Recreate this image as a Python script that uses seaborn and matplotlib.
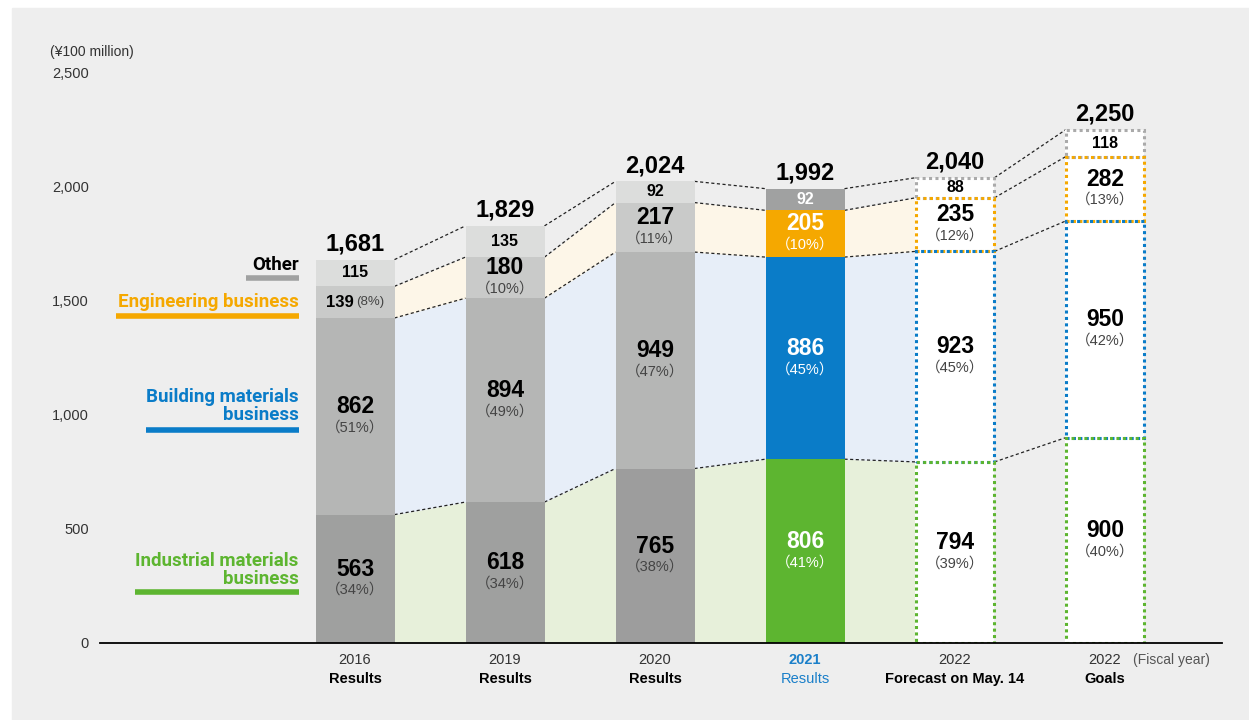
import matplotlib
matplotlib.use("Agg")
import matplotlib.pyplot as plt
from matplotlib.patches import Rectangle
import seaborn as sns

# data (¥100 million)
categories = ["2016", "2019", "2020", "2021", "2022F", "2022G"]
industrial = [563, 618, 765, 806, 794, 900]
building = [862, 894, 949, 886, 923, 950]
engineering = [139, 180, 217, 205, 235, 282]
other = [115, 135, 92, 92, 88, 118]
totals = [1681, 1829, 2024, 1992, 2040, 2250]
ind_pct = [34, 34, 38, 41, 39, 40]
bld_pct = [51, 49, 47, 45, 45, 42]
eng_pct = [8, 10, 11, 10, 12, 13]
year_labels = ["2016", "2019", "2020", "2021", "2022", "2022"]
sub_labels = ["Results", "Results", "Results", "Results", "Forecast on May. 14", "Goals"]

GRAY_BG = "#eeeeee"
C_IND, C_BLD, C_ENG, C_OTH = "#5db530", "#0a7cc8", "#f5a800", "#a0a1a1"
BAND_IND, BAND_BLD, BAND_ENG = "#e7f0da", "#e7eef8", "#fdf6e8"
FONT = ["Liberation Sans", "Noto Sans CJK JP", "DejaVu Sans"]

sns.set_theme(style="white")
plt.rcParams["font.family"] = FONT
plt.rcParams["text.color"] = "black"

fig = plt.figure(figsize=(12.49, 7.2), dpi=100)
fig.patch.set_facecolor("white")
fig.add_artist(Rectangle((12 / 1249, 0), 1, 712 / 720, transform=fig.transFigure,
                         color=GRAY_BG, zorder=-1))
ax = fig.add_axes([100 / 1249, 77 / 720, 1122 / 1249, 593 / 720])
ax.set_facecolor("none")

n = len(categories)
pos = list(range(n))
w = 79 / 150
cum1 = industrial
cum2 = [a + b for a, b in zip(cum1, building)]
cum3 = [a + b for a, b in zip(cum2, engineering)]
cum4 = totals
layers = [(cum4, ["#dcdddc", "#dcdddc", "#dcdddc", C_OTH, "white", "white"]),
          (cum3, ["#c9cac9", "#c9cac9", "#c9cac9", C_ENG, "white", "white"]),
          (cum2, ["#b5b6b5", "#b5b6b5", "#b5b6b5", C_BLD, "white", "white"]),
          (cum1, ["#9fa09f", "#9fa09f", "#9d9d9d", C_IND, "white", "white"])]

# stacked bars by overlapping cumulative heights
for vals, cols in layers:
    sns.barplot(x=categories, y=vals, hue=categories, palette=cols, legend=False,
                width=w, saturation=1, errorbar=None, linewidth=0, zorder=3, ax=ax)

# dotted outlines for 2022 forecast / goals
dot = (0, (1, 1.1))
bounds = [([0] * n, cum1, C_IND), (cum1, cum2, C_BLD), (cum2, cum3, C_ENG), (cum3, cum4, "#aaaaaa")]
for k, (lo, hi, c) in enumerate(reversed(bounds)):
    for i in (4, 5):
        ax.bar(pos[i], hi[i] - lo[i], bottom=lo[i], width=w - 0.012, fill=False,
               edgecolor=c, linewidth=2.2, linestyle=dot, zorder=4 + k)

# bands and dashed connectors between bars
band_cols = [BAND_IND, BAND_BLD, BAND_ENG, None]
for i in range(n - 1):
    x0, x1 = pos[i] + w / 2, pos[i + 1] - w / 2
    for (lo, hi, _), bc in zip(bounds, band_cols):
        if bc is not None and i < n - 2:
            ax.fill_between([x0, x1], [lo[i], lo[i + 1]], [hi[i], hi[i + 1]],
                            color=bc, linewidth=0, zorder=1)
        ax.plot([x0, x1], [hi[i], hi[i + 1]], color="#222222", lw=0.9,
                ls=(0, (2.5, 2)), zorder=2)

# labels inside segments
for i in range(n):
    white = i == 3
    vc = "white" if white else "black"
    pc = "white" if white else "#444444"
    segs = [(0, cum1[i], industrial[i], ind_pct[i]),
            (cum1[i], cum2[i], building[i], bld_pct[i])]
    if i > 0:
        segs.append((cum2[i], cum3[i], engineering[i], eng_pct[i]))
    for lo, hi, v, p in segs:
        yc = (lo + hi) / 2
        ax.annotate(f"{v}", (pos[i], yc), xytext=(0, 7), textcoords="offset points",
                    ha="center", va="center", fontsize=16.5, fontweight="bold", color=vc, zorder=10)
        ax.annotate(f"（{p}%）", (pos[i], yc), xytext=(0, -8), textcoords="offset points",
                    ha="center", va="center", fontsize=10.5, color=pc, zorder=10)
    if i == 0:
        yc = (cum2[i] + cum3[i]) / 2
        ax.text(pos[i] - 0.01, yc, f"{engineering[i]}", ha="right", va="center",
                fontsize=12, fontweight="bold", zorder=10)
        ax.text(pos[i] + 0.01, yc, f"({eng_pct[i]}%)", ha="left", va="center",
                fontsize=9.5, color="#444444", zorder=10)
    ax.text(pos[i], (cum3[i] + cum4[i]) / 2, f"{other[i]}", ha="center", va="center",
            fontsize=11.5, fontweight="bold", color=vc, zorder=10)
    ax.annotate(f"{totals[i]:,}", (pos[i], cum4[i]), xytext=(0, 3), textcoords="offset points",
                ha="center", va="bottom", fontsize=17, fontweight="bold", color="black", zorder=10)

# left-side segment legend
legend_items = [("Other", "black", "#a0a1a1", 1658, 1601, -0.727),
                ("Engineering business", C_ENG, C_ENG, 1496, 1434, -1.593),
                ("Building materials\nbusiness", C_BLD, C_BLD, 1039, 934, -1.393),
                ("Industrial materials\nbusiness", C_IND, C_IND, 320, 224, -1.467)]
for txt, tc, lc, ty, ly, lx in legend_items:
    ax.text(-0.375, ty, txt, ha="right", va="center", color=tc, fontsize=13.5,
            fontweight="bold", family=["Roboto", "DejaVu Sans"], linespacing=1.05)
    ax.plot([lx, -0.373], [ly, ly], color=lc, lw=4, solid_capstyle="butt", clip_on=False)

# x labels
ax.set_xticks([])
xt = ax.get_xaxis_transform()
for i in range(n):
    is21 = i == 3
    ax.text(pos[i], -0.029, year_labels[i], transform=xt, ha="center", va="center",
            fontsize=10.5, color="#1a7fc9" if is21 else "#333333",
            fontweight="bold" if is21 else "normal")
    ax.text(pos[i], -0.061, sub_labels[i], transform=xt, ha="center", va="center",
            fontsize=10.5, color="#1a7fc9" if is21 else "black",
            fontweight="normal" if is21 else "bold")
ax.text(5.187, -0.029, "(Fiscal year)", transform=xt, ha="left", va="center",
        fontsize=10, color="#555555")

# y axis
ax.set_xlim(-1.7, 5.78)
ax.set_ylim(0, 2600)
yt = [0, 500, 1000, 1500, 2000, 2500]
ax.set_yticks(yt)
ax.set_yticklabels([f"{v:,}" for v in yt], fontsize=10.5, color="#333333")
ax.tick_params(axis="y", length=0, pad=8)
ax.tick_params(axis="x", length=0)
ax.set_xlabel("")
ax.set_ylabel("")
for s in ["top", "right", "left"]:
    ax.spines[s].set_visible(False)
ax.spines["bottom"].set_color("black")
ax.spines["bottom"].set_linewidth(1.3)
ax.spines["bottom"].set_zorder(12)
fig.text(50 / 1249, 1 - 52 / 720, "(¥100 million)", ha="left", va="center",
         fontsize=10, color="#333333")

fig.savefig("out.png", dpi=100, facecolor=fig.get_facecolor())
